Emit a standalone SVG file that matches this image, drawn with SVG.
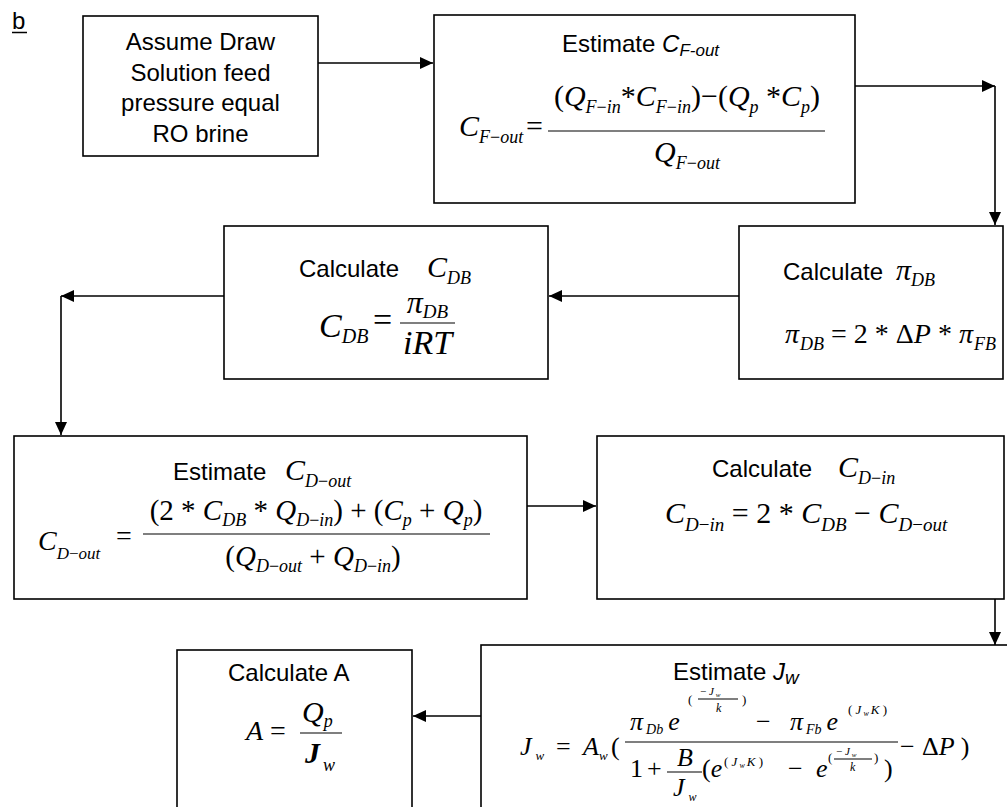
<svg xmlns="http://www.w3.org/2000/svg" width="1007" height="807" viewBox="0 0 1007 807">
<defs>
<style>
.box{fill:#fff;stroke:#000;stroke-width:1.6}
.ln{fill:none;stroke:#000;stroke-width:1.6}
.fr{stroke:#000;stroke-width:1.2}
.t{font-family:"Liberation Sans",Arial,sans-serif;font-size:24px;fill:#000}
.ti{font-family:"Liberation Sans",Arial,sans-serif;font-style:italic;fill:#000}
.m{font-family:"Liberation Serif","Times New Roman",serif;font-style:italic;fill:#000}
.u{font-style:normal}
</style>
<marker id="ah" markerWidth="14" markerHeight="12" refX="13" refY="6" orient="auto" markerUnits="userSpaceOnUse">
<path d="M0,0 L13,6 L0,12 Z" fill="#000"/>
</marker>
</defs>
<rect width="1007" height="807" fill="#fff"/>
<g id="label-b">
<text class="t" x="12" y="29" font-size="21">b</text>
<line x1="12" y1="32.5" x2="27" y2="32.5" stroke="#000" stroke-width="1.5"/>
</g>
<g id="connectors">
<path class="ln" d="M318,63 H433" marker-end="url(#ah)"/>
<path class="ln" d="M855,86 H995" marker-end="url(#ah)"/>
<path class="ln" d="M995,86 V225" marker-end="url(#ah)"/>
<path class="ln" d="M739,296 H549" marker-end="url(#ah)"/>
<path class="ln" d="M224,296 H61" marker-end="url(#ah)"/>
<path class="ln" d="M61,296 V435" marker-end="url(#ah)"/>
<path class="ln" d="M527,506 H596" marker-end="url(#ah)"/>
<path class="ln" d="M995,599 V645" marker-end="url(#ah)"/>
<path class="ln" d="M481,716 H413" marker-end="url(#ah)"/>
</g>
<g id="assume">
<rect class="box" x="83" y="16" width="235" height="140"/>
<text class="t" text-anchor="middle"><tspan x="200.5" y="50">Assume Draw</tspan><tspan x="200.5" y="80.5">Solution feed</tspan><tspan x="200.5" y="111">pressure equal</tspan><tspan x="200.5" y="141.5">RO brine</tspan></text>
</g>
<g id="estimate-cfout">
<rect class="box" x="434" y="15" width="421" height="188"/>
<text class="t" x="562" y="52">Estimate <tspan class="ti">C<tspan font-size="17" dy="4">F-out</tspan></tspan></text>
<text class="m" x="459" y="136" font-size="30">C<tspan font-size="18" dy="7">F<tspan class="u">−</tspan>out</tspan></text>
<text class="m u" x="526" y="136" font-size="30">=</text>
<text class="m" x="687" y="106" font-size="30" text-anchor="middle"><tspan class="u">(</tspan>Q<tspan font-size="18" dy="7">F<tspan class="u">−</tspan>in</tspan><tspan class="u" dy="-7">*</tspan>C<tspan font-size="18" dy="7">F<tspan class="u">−</tspan>in</tspan><tspan class="u" dy="-7">)−(</tspan>Q<tspan font-size="18" dy="7">p</tspan><tspan class="u" dy="-7"> *</tspan>C<tspan font-size="18" dy="7">p</tspan><tspan class="u" dy="-7">)</tspan></text>
<line class="fr" x1="548" y1="131" x2="825" y2="131"/>
<text class="m" x="687" y="162" font-size="30" text-anchor="middle">Q<tspan font-size="18" dy="7">F<tspan class="u">−</tspan>out</tspan></text>
</g>
<g id="calc-pidb">
<rect class="box" x="739" y="226" width="264" height="153"/>
<text class="t" x="783" y="280">Calculate</text>
<text class="m" x="896" y="280" font-size="30">π<tspan font-size="18" dy="6">DB</tspan></text>
<text class="m" x="785" y="343" font-size="28">π<tspan font-size="18" dy="7" dx="1">DB</tspan><tspan class="u" dy="-7"> = 2 * Δ</tspan>P<tspan class="u"> * </tspan>π<tspan font-size="18" dy="7" dx="1">FB</tspan></text>
</g>
<g id="calc-cdb">
<rect class="box" x="224" y="226" width="324" height="153"/>
<text class="t" x="299" y="277">Calculate</text>
<text class="m" x="427" y="277" font-size="30">C<tspan font-size="18" dy="7">DB</tspan></text>
<text class="m" x="319" y="337" font-size="34">C<tspan font-size="20" dy="6">DB</tspan></text>
<text class="m u" x="373" y="331" font-size="34">=</text>
<line class="fr" x1="400" y1="323" x2="455" y2="323"/>
<text class="m" x="427.5" y="313" font-size="32" text-anchor="middle">π<tspan font-size="19" dy="5">DB</tspan></text>
<text class="m" x="427.5" y="354" font-size="34" text-anchor="middle">iRT</text>
</g>
<g id="estimate-cdout">
<rect class="box" x="14" y="436" width="513" height="163"/>
<text class="t" x="173" y="480">Estimate</text>
<text class="m" x="285" y="480" font-size="30">C<tspan font-size="18" dy="7">D<tspan class="u">−</tspan>out</tspan></text>
<text class="m" x="38" y="550" font-size="28">C<tspan font-size="17" dy="9">D<tspan class="u">−</tspan>out</tspan></text>
<text class="m u" x="116" y="545" font-size="28">=</text>
<line class="fr" x1="143" y1="534" x2="490" y2="534"/>
<text class="m" x="316" y="520" font-size="29" text-anchor="middle"><tspan class="u">(2 * </tspan>C<tspan font-size="18" dy="6">DB</tspan><tspan class="u" dy="-6"> * </tspan>Q<tspan font-size="18" dy="6">D<tspan class="u">−</tspan>in</tspan><tspan class="u" dy="-6">) + (</tspan>C<tspan font-size="18" dy="6">p</tspan><tspan class="u" dy="-6"> + </tspan>Q<tspan font-size="18" dy="6">p</tspan><tspan class="u" dy="-6">)</tspan></text>
<text class="m" x="313" y="566" font-size="29" text-anchor="middle"><tspan class="u">(</tspan>Q<tspan font-size="18" dy="6">D<tspan class="u">−</tspan>out</tspan><tspan class="u" dy="-6"> + </tspan>Q<tspan font-size="18" dy="6">D<tspan class="u">−</tspan>in</tspan><tspan class="u" dy="-6">)</tspan></text>
</g>
<g id="calc-cdin">
<rect class="box" x="597" y="436" width="407" height="163"/>
<text class="t" x="712" y="477">Calculate</text>
<text class="m" x="838" y="477" font-size="30">C<tspan font-size="18" dy="7">D<tspan class="u">−</tspan>in</tspan></text>
<text class="m" x="665" y="523" font-size="30">C<tspan font-size="19" dy="8">D<tspan class="u">−</tspan>in</tspan><tspan class="u" dy="-8"> = 2 * </tspan>C<tspan font-size="19" dy="8">DB</tspan><tspan class="u" dy="-8"> − </tspan>C<tspan font-size="19" dy="8">D<tspan class="u">−</tspan>out</tspan></text>
</g>
<g id="estimate-jw">
<rect class="box" x="481" y="645" width="540" height="180"/>
<text class="t" x="673" y="680" font-size="27">Estimate <tspan class="ti">J<tspan font-size="19" dy="4">w</tspan></tspan></text>
<text class="m" x="520" y="755" font-size="26">J<tspan font-size="13" dy="5" dx="4">w</tspan></text>
<text class="m u" x="556" y="755" font-size="26">=</text>
<text class="m" x="583" y="755" font-size="26">A<tspan font-size="13" dy="5">w</tspan></text>
<text class="m u" x="611" y="755" font-size="26">(</text>
<line class="fr" x1="625" y1="742" x2="898" y2="742"/>
<text class="m" x="630" y="730" font-size="26">π<tspan font-size="14" dy="4" dx="3">Db</tspan><tspan dy="-4" dx="5">e</tspan></text>
<text class="m u" x="688" y="704" font-size="13">(</text>
<text class="m" x="700" y="695" font-size="11"><tspan class="u">− </tspan>J<tspan font-size="7" dy="2" dx="2">w</tspan></text>
<line class="fr" x1="698" y1="699" x2="738" y2="699" stroke-width="0.8"/>
<text class="m" x="716" y="712" font-size="12">k</text>
<text class="m u" x="742" y="704" font-size="13">)</text>
<text class="m u" x="756" y="730" font-size="26">−</text>
<text class="m" x="790" y="730" font-size="26">π<tspan font-size="14" dy="4" dx="3">Fb</tspan><tspan dy="-4" dx="5">e</tspan></text>
<text class="m" x="848" y="714" font-size="13"><tspan class="u">( </tspan>J<tspan font-size="8" dy="2" dx="2">w</tspan><tspan dy="-2" dx="2">K</tspan><tspan class="u"> )</tspan></text>
<text class="m u" x="900" y="755" font-size="26">−</text>
<text class="m" x="922" y="755" font-size="26"><tspan class="u">Δ</tspan>P<tspan class="u" dx="6">)</tspan></text>
<text class="m u" x="630" y="777" font-size="26">1</text>
<text class="m u" x="647" y="777" font-size="26">+</text>
<line class="fr" x1="667" y1="772" x2="702" y2="772"/>
<text class="m" x="677" y="766" font-size="26">B</text>
<text class="m" x="673" y="796" font-size="26">J<tspan font-size="12" dy="5" dx="4">w</tspan></text>
<text class="m" x="702" y="777" font-size="26"><tspan class="u">(</tspan>e</text>
<text class="m" x="724" y="766" font-size="13"><tspan class="u">( </tspan>J<tspan font-size="8" dy="2" dx="2">w</tspan><tspan dy="-2" dx="2">K</tspan><tspan class="u"> )</tspan></text>
<text class="m u" x="788" y="777" font-size="26">−</text>
<text class="m" x="816" y="777" font-size="26">e</text>
<text class="m u" x="828" y="762" font-size="13">(</text>
<text class="m" x="836" y="755" font-size="11"><tspan class="u">− </tspan>J<tspan font-size="7" dy="2" dx="2">w</tspan></text>
<line class="fr" x1="834" y1="759" x2="872" y2="759" stroke-width="0.8"/>
<text class="m" x="850" y="771" font-size="12">k</text>
<text class="m u" x="874" y="762" font-size="13">)</text>
<text class="m u" x="884" y="777" font-size="26">)</text>
</g>
<g id="calc-a">
<rect class="box" x="177" y="650" width="235" height="180"/>
<text class="t" x="228" y="681" font-size="27">Calculate A</text>
<text class="m" x="246" y="740" font-size="28">A</text>
<text class="m u" x="270" y="740" font-size="28">=</text>
<line class="fr" x1="300" y1="733" x2="342" y2="733"/>
<text class="m" x="302" y="722" font-size="30">Q<tspan font-size="18" dy="5">p</tspan></text>
<text class="m" x="305" y="763" font-size="30" font-weight="bold">J<tspan font-size="18" font-weight="normal" dy="8" dx="3">w</tspan></text>
</g>
</svg>
